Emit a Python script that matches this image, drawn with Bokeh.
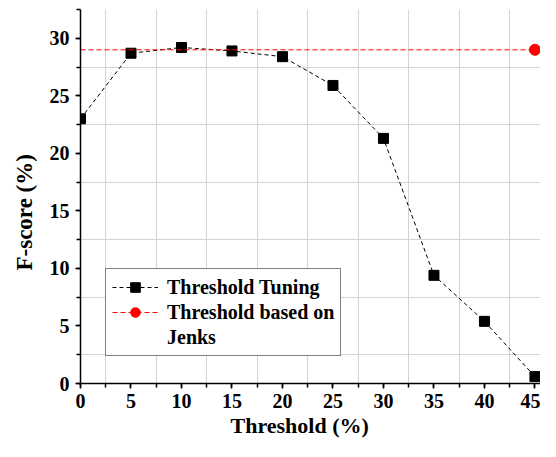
from bokeh.plotting import figure
from bokeh.models import (Range1d, SingleIntervalTicker, FixedTicker, Legend,
                          LegendItem, Title)
from bokeh.embed import file_html
from bokeh.resources import INLINE

# ---- data ----
thresholds = [0, 5, 10, 15, 20, 25, 30, 35, 40, 45]
fscore = [23.0, 28.7, 29.2, 28.9, 28.4, 25.9, 21.3, 9.4, 5.4, 0.6]
jenks_x = [0, 45]
jenks_y = [29.0, 29.0]
series_names = ["Threshold Tuning", "Threshold based on", "Jenks"]
x_title = "Threshold (%)"
y_title = "F-score (%)"
tick_step = 5
y_ticks = [0, 5, 10, 15, 20, 25, 30]

FONT = "Liberation Serif"

p = figure(width=540, height=441, output_backend="svg", toolbar_location=None,
           x_range=Range1d(0, 45.55), y_range=Range1d(0, 32.5),
           min_border_left=80, min_border_right=0, min_border_top=9,
           min_border_bottom=58)
p.outline_line_color = None
p.background_fill_color = "white"

for ax in (p.xaxis[0], p.yaxis[0]):
    ax.ticker = SingleIntervalTicker(interval=tick_step, num_minor_ticks=2)
    ax.axis_line_color = "black"
    ax.axis_line_width = 1.5
    ax.major_tick_line_color = "black"
    ax.major_tick_line_width = 1.5
    ax.minor_tick_line_color = "black"
    ax.minor_tick_line_width = 1.5
    ax.major_tick_in = 0
    ax.major_tick_out = 5
    ax.minor_tick_in = 0
    ax.minor_tick_out = 4
    ax.major_label_text_font = FONT
    ax.major_label_text_font_style = "bold"
    ax.major_label_text_font_size = "20px"
    ax.major_label_text_color = "black"
p.xaxis[0].major_label_standoff = 5
p.yaxis[0].major_label_standoff = 6

# grid lines sit half-way between the major ticks
p.xgrid[0].ticker = FixedTicker(ticks=[t + tick_step / 2 for t in thresholds])
p.ygrid[0].ticker = FixedTicker(ticks=[t + tick_step / 2 for t in y_ticks])
for g in (p.xgrid[0], p.ygrid[0]):
    g.grid_line_color = "#d4d4d4"
    g.grid_line_width = 1

# threshold tuning series
l1 = p.line(thresholds, fscore, line_color="black", line_width=1, line_dash="4 3")
s1 = p.scatter(thresholds, fscore, marker="square", size=10, fill_color="black",
               line_color="black")
# Jenks series
l2 = p.line(jenks_x, jenks_y, line_color="#ff0000", line_width=1, line_dash="5 3")
s2 = p.scatter(jenks_x[-1:], jenks_y[-1:], marker="circle", size=11,
               fill_color="#ff0000", line_color="#ff0000")
dummy = p.line(jenks_x, jenks_y, line_alpha=0)

legend = Legend(items=[
    LegendItem(label=series_names[0], renderers=[l1, s1]),
    LegendItem(label=series_names[1], renderers=[l2, s2]),
    LegendItem(label=series_names[2], renderers=[dummy]),
], location=(25, 27))
legend.label_text_font = FONT
legend.label_text_font_style = "bold"
legend.label_text_font_size = "20px"
legend.label_text_color = "black"
legend.border_line_color = "black"
legend.border_line_width = 1
legend.padding = 6
legend.spacing = 1
legend.glyph_width = 46
legend.glyph_height = 24
legend.label_height = 24
legend.label_standoff = 9
legend.margin = 0
legend.background_fill_alpha = 1
p.add_layout(legend, "center")

p.add_layout(Title(text=x_title, align="left", offset=150, standoff=0,
                   text_font=FONT, text_font_style="bold", text_font_size="22px",
                   text_color="black"), "below")
p.add_layout(Title(text=y_title, align="left", offset=113, standoff=19,
                   text_font=FONT, text_font_style="bold", text_font_size="23px",
                   text_color="black"), "left")

open("out.html", "w").write(file_html(p, INLINE))
